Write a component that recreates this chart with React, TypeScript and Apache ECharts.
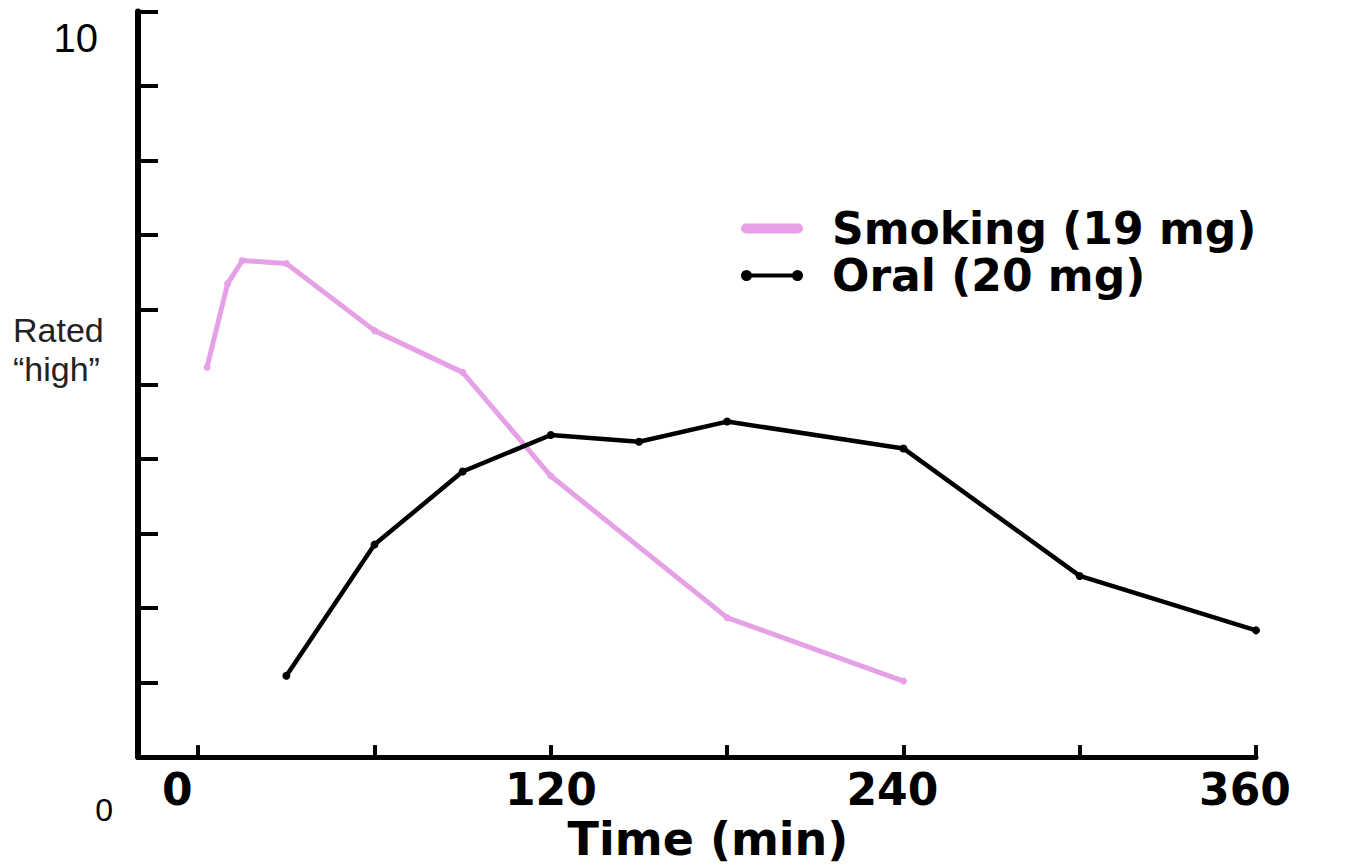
import React, { useEffect, useRef } from "react";
import * as echarts from "echarts";

const seriesNames = ["Smoking (19 mg)", "Oral (20 mg)"];
const smokingTimes = [3, 10, 15, 30, 60, 90, 120, 180, 240];
const smokingHigh = [5.23, 6.35, 6.66, 6.62, 5.72, 5.16, 3.77, 1.87, 1.02];
const oralTimes = [30, 60, 90, 120, 150, 180, 240, 300, 360];
const oralHigh = [1.09, 2.85, 3.83, 4.32, 4.23, 4.5, 4.14, 2.43, 1.7];
const xTickValues = [0, 60, 120, 180, 240, 300, 360];
const xLabelValues = [0, 120, 240, 360];
const yLabelValues = [0, 10];
const yAxisTitle = "Rated\n\u201Chigh\u201D";
const xAxisTitle = "Time (min)";

const PINK = "#e6a0e6";
const BOLD = "DejaVu Sans";

export default function App() {
  const ref = useRef<HTMLDivElement>(null);
  useEffect(() => {
    if (!ref.current) return;
    const chart = echarts.init(ref.current, null, { renderer: "svg" });
    const xRich = {
      z: { fontSize: 44, fontWeight: "bold", fontFamily: BOLD, color: "#000", padding: [0, 42, 0, 0] },
      r: { fontSize: 44, fontWeight: "bold", fontFamily: BOLD, color: "#000", padding: [0, 22, 0, 0] },
      c: { fontSize: 44, fontWeight: "bold", fontFamily: BOLD, color: "#000" },
    };
    const yRich = {
      t: { fontSize: 40, fontFamily: "Liberation Sans", color: "#000", padding: [52, 15, 0, 0] },
      b: { fontSize: 32, fontFamily: "Liberation Sans", color: "#000", padding: [106, 0, 0, 0] },
    };
    chart.setOption({
      animation: false,
      backgroundColor: "#fff",
      grid: { left: 138, right: 102, top: 11.5, bottom: 100 },
      legend: {
        orient: "vertical",
        left: 741,
        top: 205,
        padding: 0,
        itemWidth: 62,
        itemHeight: 12,
        itemGap: 0,
        data: [
          {
            name: seriesNames[0],
            icon: "path://M5,1 L57,1 A5,5 0 0 1 57,11 L5,11 A5,5 0 0 1 5,1 Z",
          },
          {
            name: seriesNames[1],
            icon:
              "path://M5.5,0.5 A5.5,5.5 0 1 1 5.5,11.5 A5.5,5.5 0 1 1 5.5,0.5 Z M56.5,0.5 A5.5,5.5 0 1 1 56.5,11.5 A5.5,5.5 0 1 1 56.5,0.5 Z M10.5,4 L51.5,4 L51.5,8 L10.5,8 Z",
          },
        ],
        textStyle: {
          fontSize: 44,
          fontWeight: "bold",
          fontFamily: BOLD,
          color: "#000",
          lineHeight: 47,
          padding: [0, 0, 0, 24],
        },
      },
      xAxis: {
        type: "value",
        min: -20.5,
        max: 360,
        name: xAxisTitle,
        nameLocation: "middle",
        nameGap: 50,
        nameTextStyle: {
          fontSize: 46,
          fontWeight: "bold",
          fontFamily: BOLD,
          color: "#000",
          padding: [0, 0, 0, 22],
        },
        axisLine: { show: true, onZero: false, lineStyle: { color: "#000", width: 5 } },
        axisTick: {
          show: true,
          inside: true,
          length: 12,
          customValues: xTickValues,
          lineStyle: { color: "#000", width: 4 },
        },
        axisLabel: {
          show: true,
          customValues: xLabelValues,
          margin: 10,
          formatter: (v: number) => (v === 0 ? "{z|0}" : v >= 240 ? `{r|${v}}` : `{c|${v}}`),
          rich: xRich,
        },
        splitLine: { show: false },
      },
      yAxis: {
        type: "value",
        min: 0,
        max: 10,
        interval: 1,
        axisLine: { show: true, onZero: false, lineStyle: { color: "#000", width: 6 } },
        axisTick: { show: true, inside: true, length: 20, lineStyle: { color: "#000", width: 4 } },
        axisLabel: {
          show: true,
          customValues: yLabelValues,
          margin: 25,
          formatter: (v: number) => (v === 10 ? `{t|${v}}` : `{b|${v}}`),
          rich: yRich,
        },
        splitLine: { show: false },
      },
      graphic: [
        {
          type: "text",
          left: 13,
          top: 310,
          style: {
            text: yAxisTitle,
            font: "34px 'Liberation Sans'",
            fill: "#222",
            lineHeight: 39,
            align: "center",
            width: 98,
          },
        },
      ],
      series: [
        {
          name: seriesNames[0],
          type: "line",
          data: smokingTimes.map((t, i) => [t, smokingHigh[i]]),
          color: PINK,
          itemStyle: { color: PINK },
          lineStyle: { color: PINK, width: 5, join: "round", cap: "round" },
          symbol: "circle",
          symbolSize: 7,
          z: 2,
        },
        {
          name: seriesNames[1],
          type: "line",
          data: oralTimes.map((t, i) => [t, oralHigh[i]]),
          color: "#000",
          itemStyle: { color: "#000" },
          lineStyle: { color: "#000", width: 4.5, join: "round" },
          symbol: "circle",
          symbolSize: 8,
          z: 3,
        },
      ],
    });
    return () => chart.dispose();
  }, []);
  return (
    <div
      ref={ref}
      style={{ position: "fixed", left: 0, top: 0, width: 1358, height: 867, background: "#fff" }}
    />
  );
}
